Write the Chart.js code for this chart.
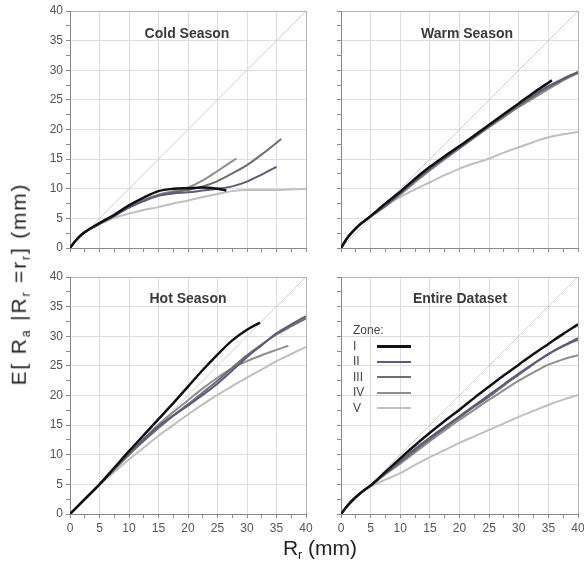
<!DOCTYPE html>
<html>
<head>
<meta charset="utf-8">
<script src="https://cdn.jsdelivr.net/npm/chart.js@4/dist/chart.umd.min.js"></script>
<style>
  html, body { margin: 0; padding: 0; overflow: hidden; background: #fff; }
  body { position: relative; width: 584px; height: 567px; font-family: "Liberation Sans", Arial, sans-serif; }
  canvas { position: absolute; }
  .ptitle { position: absolute; font-weight: bold; font-size: 14px; color: #3a3a3a; transform: translate(-50%, -50%); white-space: nowrap; }
  .ytitle { position: absolute; left: 20px; top: 284px; font-size: 21px; color: #222; white-space: nowrap;
            transform: translate(-50%, -50%) rotate(-90deg); letter-spacing: 1.8px; }
  .xtitle { position: absolute; left: 320px; top: 549px; font-size: 21px; color: #222; white-space: nowrap; transform: translate(-50%, -50%); }
  sub { font-size: 60%; vertical-align: -0.35em; }
  #legend { position: absolute; left: 353px; top: 323px; font-size: 12px; color: #444; }
  #legend .row { position: relative; height: 15.5px; line-height: 15.5px; }
  #legend .swatch { position: absolute; left: 24px; width: 34px; }
</style>
</head>
<body>

<canvas id="cold" width="320" height="262" style="left:0;top:0"></canvas>
<canvas id="warm" width="262" height="262" style="left:330px;top:0"></canvas>
<canvas id="hot" width="320" height="282" style="left:0;top:266px"></canvas>
<canvas id="entire" width="262" height="282" style="left:330px;top:266px"></canvas>

<div class="ptitle" style="left:187px;top:33px">Cold Season</div>
<div class="ptitle" style="left:467px;top:33px">Warm Season</div>
<div class="ptitle" style="left:188px;top:298px">Hot Season</div>
<div class="ptitle" style="left:460px;top:298px">Entire Dataset</div>

<div class="ytitle">E[ R<sub>a</sub> |R<sub>r</sub> =r<sub>r</sub>] (mm)</div>
<div class="xtitle">R<sub>r</sub> (mm)</div>

<div id="legend"></div>

<script>
// zones and their line look
const zones = ["I", "II", "III", "IV", "V"];
const zoneColors = ["#111111", "#5b5b7e", "#6e6e6e", "#8e8e8e", "#bfbfbf"];
const zoneWidths = [2.5, 2, 2, 2, 2];

const axisTicks = [0, 5, 10, 15, 20, 25, 30, 35, 40];

// Cold season
const coldX_I = [0, 1, 2, 3, 5, 7.5, 10, 12.5, 15, 17.5, 20, 22.5, 25, 26.5];
const coldY_I = [0, 1.3, 2.3, 3.0, 4.2, 5.6, 7.2, 8.5, 9.6, 10.0, 10.1, 10.2, 10.0, 9.7];
const coldX_II = [0, 1, 2, 3, 5, 7.5, 10, 12.5, 15, 17.5, 20, 22.5, 25, 27.5, 30, 32.5, 35];
const coldY_II = [0, 1.3, 2.3, 3.0, 4.1, 5.4, 6.8, 7.9, 8.8, 9.2, 9.4, 9.7, 10.0, 10.4, 11.2, 12.4, 13.7];
const coldX_III = [0, 1, 2, 3, 5, 7.5, 10, 12.5, 15, 17.5, 20, 22.5, 25, 27.5, 30, 32.5, 35.8];
const coldY_III = [0, 1.3, 2.3, 3.0, 4.1, 5.5, 6.9, 8.0, 8.9, 9.4, 9.8, 10.4, 11.3, 12.6, 14.0, 15.8, 18.4];
const coldX_IV = [0, 1, 2, 3, 5, 7.5, 10, 12.5, 15, 17.5, 20, 22.5, 25, 28.2];
const coldY_IV = [0, 1.3, 2.3, 3.0, 4.1, 5.5, 6.9, 8.1, 9.0, 9.6, 10.2, 11.4, 13.0, 15.1];
const coldX_V = [0, 1, 2, 3, 5, 7.5, 10, 12.5, 15, 17.5, 20, 22.5, 25, 27.5, 30, 35, 40];
const coldY_V = [0, 1.3, 2.3, 3.0, 4.0, 5.1, 5.8, 6.4, 6.9, 7.5, 8.0, 8.6, 9.1, 9.6, 9.8, 9.8, 10.0];

// Warm season
const warmX = [0, 1, 2, 3, 4.4, 7.5, 10, 12.5, 15, 17.5, 20, 22.5, 25, 27.5, 30, 32.5, 35, 37.5, 40];
const warmX_I = [0, 1, 2, 3, 4.4, 7.5, 10, 12.5, 15, 17.5, 20, 22.5, 25, 27.5, 30, 32.5, 35, 35.6];
const warmY_I = [0, 1.6, 2.8, 3.8, 4.9, 7.5, 9.5, 11.7, 13.7, 15.5, 17.2, 19.0, 20.8, 22.6, 24.4, 26.2, 27.9, 28.3];
const warmY_II = [0, 1.6, 2.8, 3.8, 4.9, 7.2, 9.3, 11.4, 13.4, 15.2, 17.0, 18.8, 20.6, 22.4, 24.2, 25.8, 27.3, 28.6, 29.7];
const warmY_III = [0, 1.6, 2.8, 3.8, 4.9, 7.1, 9.2, 11.3, 13.3, 15.1, 16.9, 18.7, 20.5, 22.3, 24.0, 25.6, 27.1, 28.4, 29.5];
const warmY_IV = [0, 1.6, 2.8, 3.8, 4.9, 7.0, 9.0, 11.1, 13.1, 15.0, 16.8, 18.6, 20.4, 22.1, 23.8, 25.3, 26.8, 28.3, 29.7];
const warmY_V = [0, 1.6, 2.8, 3.8, 4.9, 7.3, 8.6, 9.9, 11.1, 12.3, 13.4, 14.3, 15.1, 16.1, 17.0, 17.9, 18.7, 19.2, 19.6];

// Hot season
const hotX = [0, 2.5, 5, 7.5, 10, 12.5, 15, 17.5, 20, 22.5, 25, 27.5, 30, 32.5, 35, 37.5, 40];
const hotX_I = [0, 2.5, 5, 7.5, 10, 12.5, 15, 17.5, 20, 22.5, 25, 27.5, 30, 32.2];
const hotY_I = [0, 2.5, 5.0, 7.8, 10.6, 13.3, 16.0, 18.7, 21.5, 24.3, 26.9, 29.3, 31.1, 32.3];
const hotY_II = [0, 2.5, 5.0, 7.6, 10.3, 12.6, 14.8, 16.6, 18.3, 20.1, 22.0, 24.2, 26.5, 28.5, 30.5, 32.0, 33.4];
const hotY_III = [0, 2.5, 5.0, 7.5, 10.0, 12.3, 14.5, 16.6, 18.5, 20.5, 22.5, 24.7, 26.8, 28.6, 30.3, 31.7, 33.0];
const hotX_IV = [0, 2.5, 5, 7.5, 10, 12.5, 15, 17.5, 20, 22.5, 25, 27.5, 30, 32.5, 35, 37];
const hotY_IV = [0, 2.5, 5.0, 7.6, 10.1, 12.7, 15.1, 17.2, 19.2, 21.2, 23.0, 24.6, 25.8, 26.8, 27.7, 28.4];
const hotY_V = [0, 2.5, 4.9, 7.1, 9.2, 11.2, 13.2, 15.0, 16.8, 18.5, 20.1, 21.6, 23.0, 24.4, 25.8, 27.0, 28.2];

// Entire dataset
const entX = [0, 1, 2, 3, 4, 5, 7.5, 10, 12.5, 15, 17.5, 20, 22.5, 25, 27.5, 30, 32.5, 35, 37.5, 40];
const entY_I = [0, 1.3, 2.4, 3.3, 4.1, 4.8, 7.1, 9.4, 11.6, 13.7, 15.7, 17.6, 19.6, 21.5, 23.4, 25.2, 27.0, 28.7, 30.4, 32.0];
const entY_II = [0, 1.3, 2.4, 3.3, 4.1, 4.8, 6.9, 9.0, 11.0, 12.9, 14.7, 16.5, 18.3, 20.1, 21.9, 23.7, 25.4, 27.0, 28.4, 29.7];
const entY_III = [0, 1.3, 2.4, 3.3, 4.1, 4.8, 6.8, 8.7, 10.7, 12.6, 14.5, 16.3, 18.1, 19.8, 21.7, 23.5, 25.3, 27.0, 28.3, 29.4];
const entY_IV = [0, 1.3, 2.4, 3.3, 4.1, 4.8, 6.7, 8.5, 10.4, 12.3, 14.1, 15.9, 17.6, 19.3, 20.9, 22.5, 23.9, 25.2, 26.1, 26.8];
const entY_V = [0, 1.3, 2.4, 3.3, 4.0, 4.6, 5.8, 6.9, 8.3, 9.6, 10.8, 12.0, 13.1, 14.2, 15.3, 16.4, 17.4, 18.4, 19.3, 20.1];

const toPoints = (xs, ys) => xs.map((x, i) => ({ x: x, y: ys[i] }));

function buildDatasets(series) {
  const sets = series.map((s, i) => ({
    label: zones[i],
    data: toPoints(s[0], s[1]),
    borderColor: zoneColors[i],
    borderWidth: zoneWidths[i],
    pointRadius: 0,
    cubicInterpolationMode: "monotone",
    fill: false,
  }));
  // 1:1 line, last so it is painted under the zones
  sets.push({
    label: "1:1",
    data: toPoints([0, 40], [0, 40]),
    borderColor: "#cfcfcf",
    borderWidth: 1,
    pointRadius: 0,
    fill: false,
  });
  return sets;
}

function axis(showLabels, size, horizontal) {
  return {
    type: "linear",
    min: 0,
    max: 40,
    afterBuildTicks: (scale) => {
      const t = [];
      for (let v = 0; v <= 40; v += 2.5) t.push({ value: v });
      scale.ticks = t;
    },
    afterFit: (scale) => {
      if (horizontal) scale.height = size;
      else scale.width = size;
    },
    border: { color: "#8a8a8a", width: 1 },
    grid: {
      color: (ctx) => {
        const v = ctx.tick.value;
        if (v === 40) return "#b4b4b4";
        return axisTicks.includes(v) ? "#dedede" : "rgba(0,0,0,0)";
      },
      lineWidth: 1,
      drawTicks: true,
      tickLength: 4,
      tickColor: "#8a8a8a",
    },
    ticks: {
      display: showLabels,
      autoSkip: false,
      maxRotation: 0,
      minRotation: 0,
      padding: 3,
      color: "#555",
      font: { family: "'Liberation Sans', Arial, sans-serif", size: 12 },
      callback: (v) => (axisTicks.includes(v) ? String(v) : ""),
    },
  };
}

function makePanel(id, series, opt) {
  const ctx = document.getElementById(id).getContext("2d");
  return new Chart(ctx, {
    type: "line",
    data: { datasets: buildDatasets(series) },
    options: {
      responsive: false,
      animation: false,
      layout: { padding: { left: 0, top: 11, right: opt.padRight, bottom: 0 } },
      plugins: { legend: { display: false }, tooltip: { enabled: false } },
      scales: {
        x: axis(opt.xLabels, opt.xHeight, true),
        y: axis(opt.yLabels, opt.yWidth, false),
      },
    },
  });
}

makePanel("cold", [
  [coldX_I, coldY_I], [coldX_II, coldY_II], [coldX_III, coldY_III], [coldX_IV, coldY_IV], [coldX_V, coldY_V],
], { xLabels: false, yLabels: true, xHeight: 14, yWidth: 70, padRight: 14 });

makePanel("warm", [
  [warmX_I, warmY_I], [warmX, warmY_II], [warmX, warmY_III], [warmX, warmY_IV], [warmX, warmY_V],
], { xLabels: false, yLabels: false, xHeight: 14, yWidth: 11, padRight: 14 });

makePanel("hot", [
  [hotX_I, hotY_I], [hotX, hotY_II], [hotX, hotY_III], [hotX_IV, hotY_IV], [hotX, hotY_V],
], { xLabels: true, yLabels: true, xHeight: 34, yWidth: 70, padRight: 14 });

const entire = makePanel("entire", [
  [entX, entY_I], [entX, entY_II], [entX, entY_III], [entX, entY_IV], [entX, entY_V],
], { xLabels: true, yLabels: false, xHeight: 34, yWidth: 11, padRight: 14 });

// legend inside the Entire Dataset panel, built from its datasets
const legend = document.getElementById("legend");
legend.innerHTML = '<div class="row">Zone:</div>';
entire.data.datasets.slice(0, zones.length).forEach((ds) => {
  const row = document.createElement("div");
  row.className = "row";
  row.textContent = ds.label;
  const sw = document.createElement("div");
  sw.className = "swatch";
  sw.style.borderTop = ds.borderWidth + 0.5 + "px solid " + ds.borderColor;
  sw.style.top = (15.5 - ds.borderWidth) / 2 + "px";
  row.appendChild(sw);
  legend.appendChild(row);
});
</script>
</body>
</html>
